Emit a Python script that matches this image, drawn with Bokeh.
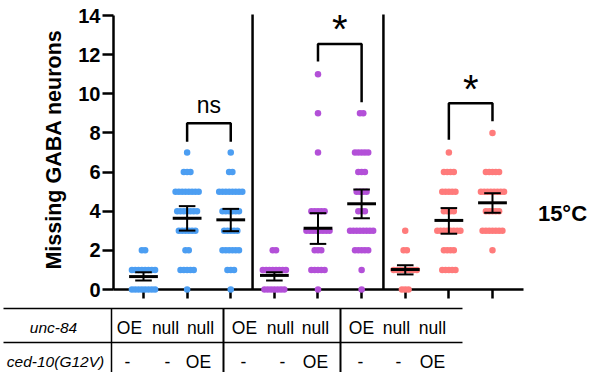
from bokeh.plotting import figure
from bokeh.models import Range1d, FixedTicker
from bokeh.core.properties import value
from bokeh.embed import file_html
from bokeh.resources import INLINE

# ---------------- data ----------------
positions = [1, 2, 3, 4, 5, 6, 7, 8, 9]
group_colors = ["#4c9ef2", "#4c9ef2", "#4c9ef2",
                "#b350d8", "#b350d8", "#b350d8",
                "#ff7b7b", "#ff7b7b", "#ff7b7b"]
# counts of animals at each number of missing neurons, per group
counts_1 = {0: 8, 1: 8, 2: 2}
counts_2 = {0: 1, 1: 5, 2: 2, 3: 6, 4: 7, 5: 8, 6: 3, 7: 1}
counts_3 = {0: 1, 1: 3, 2: 6, 3: 5, 4: 6, 5: 8, 6: 2, 7: 1}
counts_4 = {0: 7, 1: 8, 2: 2}
counts_5 = {0: 1, 1: 5, 2: 3, 3: 8, 4: 5, 7: 1, 9: 1, 11: 1}
counts_6 = {0: 1, 1: 1, 2: 5, 3: 8, 4: 3, 5: 4, 6: 3, 7: 5, 9: 2}
counts_7 = {0: 3, 1: 8, 2: 2, 3: 1}
counts_8 = {1: 5, 2: 4, 3: 8, 4: 4, 5: 5, 6: 4, 7: 1}
counts_9 = {2: 1, 3: 7, 4: 5, 5: 8, 6: 5, 8: 1}
all_counts = [counts_1, counts_2, counts_3, counts_4, counts_5,
              counts_6, counts_7, counts_8, counts_9]
means = [0.66, 3.64, 3.56, 0.72, 3.13, 4.38, 1.02, 3.53, 4.43]
sem_low = [0.46, 3.01, 2.98, 0.46, 2.33, 3.64, 0.77, 2.85, 3.92]
sem_high = [0.88, 4.26, 4.12, 0.88, 3.90, 5.11, 1.24, 4.16, 4.92]
y_ticks = [0, 2, 4, 6, 8, 10, 12, 14]

# comparisons: (left group, right group, label)
comparisons = [(2, 3, "ns"), (5, 6, "*"), (8, 9, "*")]

unc84_row = ["OE", "null", "null", "OE", "null", "null", "OE", "null", "null"]
ced10_row = ["-", "-", "OE", "-", "-", "OE", "-", "-", "OE"]
row_names = ["unc-84", "ced-10(G12V)"]
condition = "15°C"

# ---------------- layout / style ----------------
FONT = value("Liberation Sans")
X0, X1 = 0.3123, 9.711
Y0, Y1 = 0.0, 14.307


def px2x(px):
    return 1 + (px - 143) / 43.625


def py2y(py):
    return (289 - py) / 19.57


p = figure(width=590, height=372, x_range=Range1d(X0, X1), y_range=Range1d(Y0, Y1),
           output_backend="svg", toolbar_location=None, title=None,
           min_border_left=113, min_border_right=67, min_border_top=9,
           min_border_bottom=83)
p.outline_line_color = None
p.xgrid.grid_line_color = None
p.ygrid.grid_line_color = None
p.background_fill_color = "white"
p.border_fill_color = "white"

ya = p.yaxis[0]
ya.ticker = FixedTicker(ticks=y_ticks)
ya.bounds = (0, 14)
ya.axis_line_width = 2.5
ya.axis_line_color = "black"
ya.major_tick_line_width = 2.5
ya.major_tick_line_color = "black"
ya.major_tick_out = 11
ya.major_tick_in = 0
ya.minor_tick_line_color = None
ya.major_label_text_font = "Liberation Sans"
ya.major_label_text_font_style = "bold"
ya.major_label_text_font_size = "20px"
ya.major_label_text_color = "black"
ya.major_label_standoff = 2
ya.axis_label = "Missing GABA neurons"
ya.axis_label_text_font = "Liberation Sans"
ya.axis_label_text_font_style = "bold"
ya.axis_label_text_font_size = "21.5px"
ya.axis_label_text_color = "black"
ya.axis_label_standoff = 9

xa = p.xaxis[0]
xa.ticker = FixedTicker(ticks=positions)
xa.axis_line_width = 2.5
xa.axis_line_color = "black"
xa.major_tick_line_width = 2.5
xa.major_tick_line_color = "black"
xa.major_tick_out = 9
xa.major_tick_in = 0
xa.minor_tick_line_color = None
xa.major_label_text_font_size = "0px"
xa.major_label_text_alpha = 0

# separators between the three panels
p.segment(x0=[3.5, 6.5], y0=[0, 0], x1=[3.5, 6.5], y1=[14.05, 14.05],
          line_color="black", line_width=2.5)

# dots (rows of animals at each integer value)
dot_step = 0.0757
xs, ys, cs = [], [], []
for pos, cnt, col in zip(positions, all_counts, group_colors):
    for v, n in cnt.items():
        for i in range(n):
            xs.append(pos + (i - (n - 1) / 2) * dot_step)
            ys.append(v)
            cs.append(col)
p.scatter(xs, ys, size=6.5, fill_color=cs, line_color=None, level="overlay")

# mean +- SEM
cap = 0.19
half = 0.33
p.segment(x0=positions, y0=sem_low, x1=positions, y1=sem_high,
          line_color="black", line_width=2, level="overlay")
p.segment(x0=[x - cap for x in positions], y0=sem_low,
          x1=[x + cap for x in positions], y1=sem_low,
          line_color="black", line_width=2, level="overlay")
p.segment(x0=[x - cap for x in positions], y0=sem_high,
          x1=[x + cap for x in positions], y1=sem_high,
          line_color="black", line_width=2, level="overlay")
p.segment(x0=[x - half for x in positions], y0=means,
          x1=[x + half for x in positions], y1=means,
          line_color="black", line_width=3, level="overlay")

# significance brackets
bracket_top = [8.5, 12.55, 9.52]
bracket_left = [7.55, 11.65, 7.65]
bracket_right = [7.55, 9.57, 8.6]
label_y = [9.42, 13.3, 10.22]
label_size = ["23px", "40px", "40px"]
bx, by = [], []
for (a, b, lab), top, l, r in zip(comparisons, bracket_top, bracket_left, bracket_right):
    bx.append([a, a, b, b])
    by.append([l, top, top, r])
p.multi_line(bx, by, line_color="black", line_width=2.5)
for (a, b, lab), ly, sz in zip(comparisons, label_y, label_size):
    p.text(x=[(a + b) / 2], y=[ly], text=[lab], text_font=FONT,
           text_font_size=sz, text_align="center", text_baseline="alphabetic",
           text_color="black", level="overlay")

# condition label at right
p.text(x=[px2x(562)], y=[py2y(213)], text=[condition], text_font=FONT,
       text_font_size="22px", text_font_style="bold", text_align="center",
       text_baseline="middle", text_color="black", level="overlay")

# ---------------- genotype table below the axis ----------------
t_left, t_right = px2x(3), px2x(462)
h_lines_y = [py2y(308), py2y(342)]
v_lines_x = [px2x(111), px2x(223), px2x(340)]
v_widths = [1.5, 2, 2]
for yy in h_lines_y:
    p.multi_line([[t_left, t_right]], [[yy, yy]], line_color="black",
                 line_width=1.5, level="overlay")
for xx, w in zip(v_lines_x, v_widths):
    p.multi_line([[xx, xx]], [[py2y(308), py2y(380)]], line_color="black",
                 line_width=w, level="overlay")

row1_px = [129, 165, 200, 244, 280, 315, 361, 396, 432]
row2_px = [127, 167, 198, 243, 282, 315, 360, 398, 432]
p.text(x=[px2x(v) for v in row1_px], y=[py2y(327)] * 9, text=unc84_row,
       text_font=FONT, text_font_size="17.5px", text_align="center",
       text_baseline="middle", text_color="black", level="overlay")
p.text(x=[px2x(v) for v in row2_px], y=[py2y(361)] * 9, text=ced10_row,
       text_font=FONT, text_font_size="17.5px", text_align="center",
       text_baseline="middle", text_color="black", level="overlay")
p.text(x=[px2x(53), px2x(55)], y=[py2y(327), py2y(361)], text=row_names,
       text_font=FONT, text_font_size="15.5px", text_font_style="italic",
       text_align="center", text_baseline="middle", text_color="black",
       level="overlay")

open("out.html", "w").write(file_html(p, INLINE))
